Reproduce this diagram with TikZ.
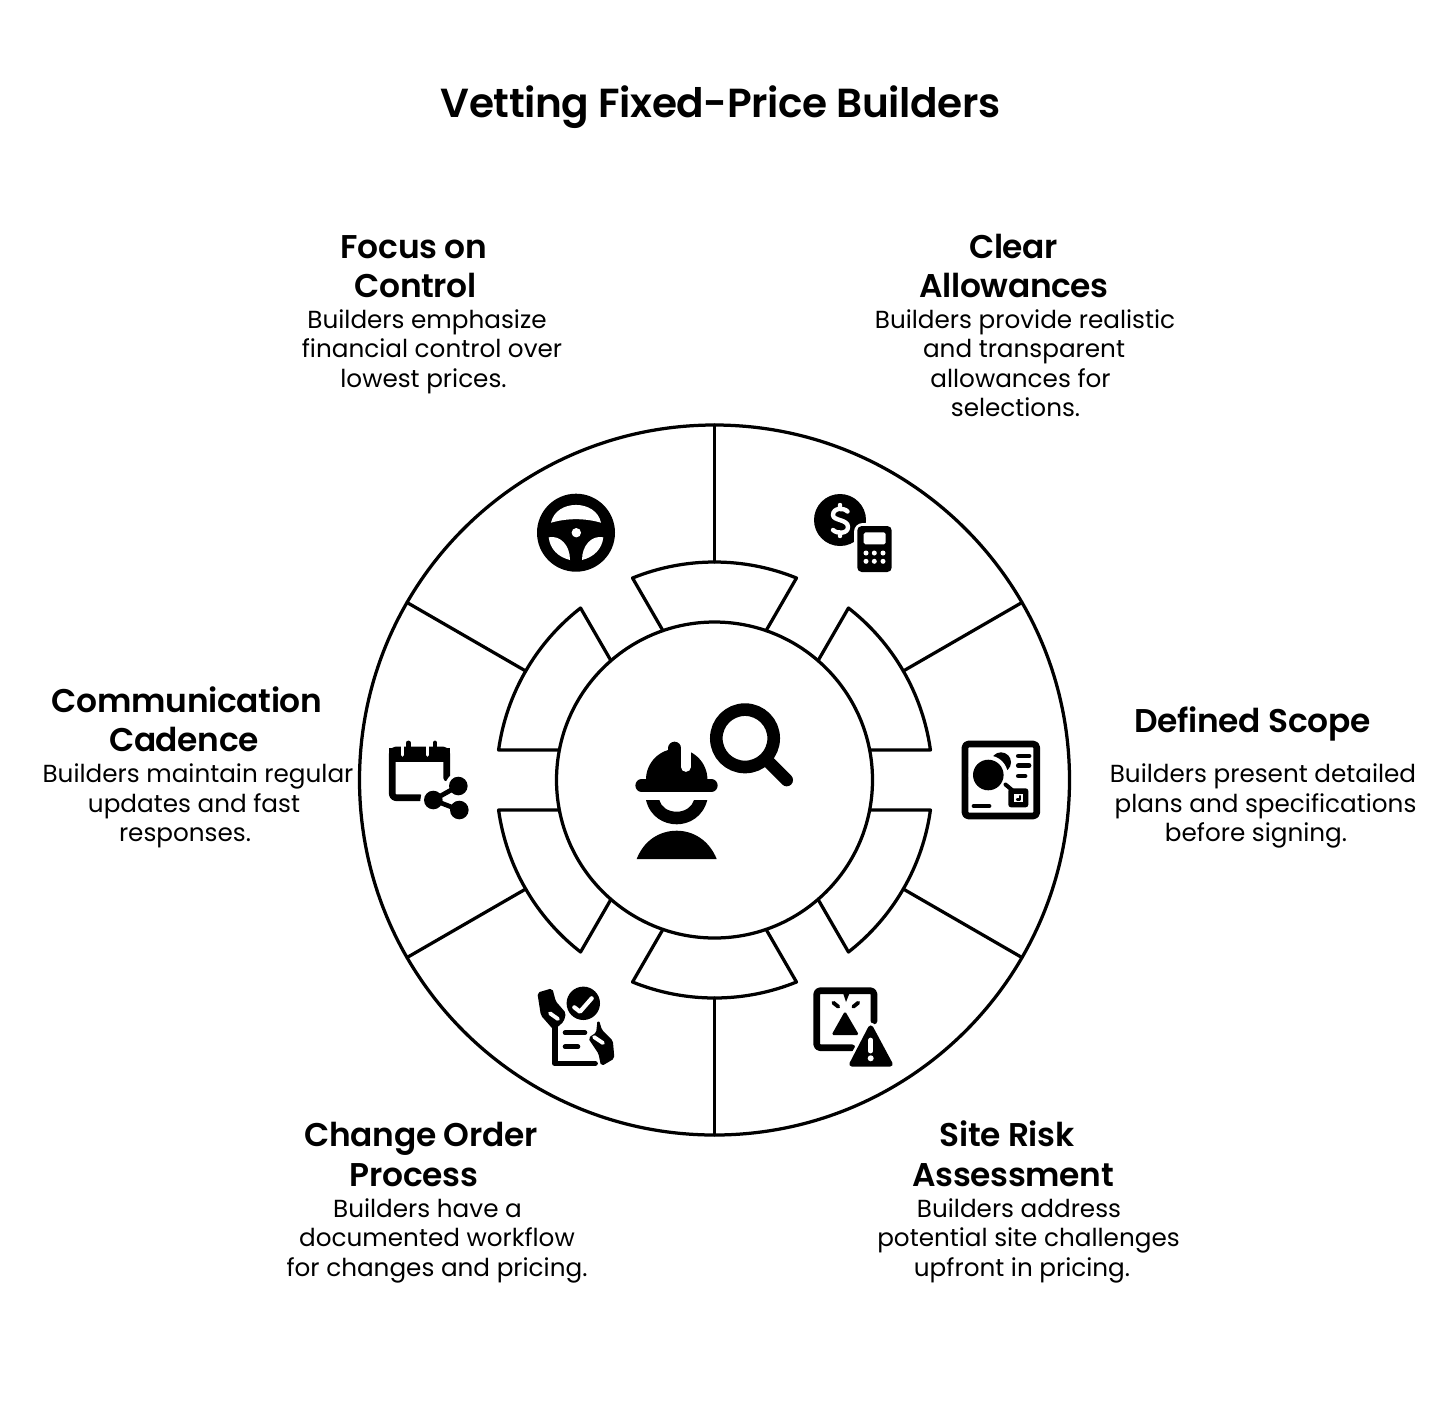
\documentclass[tikz,border=0pt]{standalone}
\usepackage{fontspec}
\setmainfont{Poppins}
\newfontfamily\headfont[LetterSpace=-1]{Poppins SemiBold}
\begin{document}
\begin{tikzpicture}[x=0.02cm,y=-0.02cm,line join=round,line cap=round,
	ring/.style={line width=1.85pt},
	titletext/.style={anchor=base,inner sep=0pt,font=\headfont\fontsize{23.1}{28}\selectfont},
	headtext/.style={anchor=base,inner sep=0pt,font=\headfont\fontsize{18.7}{22}\selectfont},
	bodytext/.style={anchor=base,inner sep=0pt,font=\fontsize{14.05}{17}\selectfont}]
	\useasboundingbox (0,0) rectangle (1429,1417);
	\def\cx{714.5} \def\cy{780}
	\def\rout{355} \def\rmid{218} \def\rin{158}
	% Wheel
	\begin{scope}[shift={(\cx,\cy)}]
	\draw[ring] (0,0) circle (\rout) (0,0) circle (\rin);
	\foreach \a in {30,90,...,330} {
		\draw[ring] (\a:\rmid)--(\a:\rout);
		\draw[ring] (\a+19.05:\rin)--(\a+22.09:\rmid)
		arc[start angle=\a+22.09,end angle=\a-22.09,radius=\rmid]--(\a-19.05:\rin);
	}
	\end{scope}
	% Texts
	\node[titletext] (title) at (720.5,117) {Vetting Fixed-Price Builders};
	\foreach \x/\y/\txt [count=\n] in {414/258/Focus on,415.5/297/Control,1013.5/258/Clear,1014/297/Allowances,
		1252.5/732/Defined Scope,187/712/Communication,184/751/Cadence,421/1146/Change Order,414/1186/Process,
		1007/1146/Site Risk,1013/1186/Assessment}
		\node[headtext] (head\n) at (\x,\y) {\txt};
	\foreach \x/\y/\txt [count=\n] in {427/328/Builders emphasize,432/357/financial control over,423.5/387/lowest prices.,
		1025/328/Builders provide realistic,1024/357/and transparent,1020.5/387/allowances for,1015.5/416/selections.,
		1263/782/Builders present detailed,1265.5/812/plans and specifications,1256/841/before signing.,
		198/782/Builders maintain regular,194/812/updates and fast,185/841/responses.,
		427.5/1217/Builders have a,437/1246/documented workflow,437/1276/for changes and pricing.,
		1019/1217/Builders address,1028.5/1246/potential site challenges,1022/1276/upfront in pricing.}
		\node[bodytext] (body\n) at (\x,\y) {\txt};
	% Worker and magnifier
	\draw[line width=7.2pt] (745,738.3) circle (28.7) (770,763.3)--(786.7,780);
	\fill (646,779.5) arc[start angle=180,end angle=360,radius=30.7]--cycle;
	\draw[white,line width=5.5pt] (685.8,742)--(685.8,767);
	\draw[line width=7.2pt] (674.7,748)--(674.7,764);
	\draw[line width=7pt] (641.5,785.5)--(711.5,785.5);
	\fill (646,800) .. controls (650,817) and (664,824.3) .. (676.7,824.3) .. controls (689,824.3) and (703,817) .. (707.3,800)
	--(694,800) .. controls (692,807) and (685,811.7) .. (676.7,811.7) .. controls (668,811.7) and (661,807) .. (659.3,800)--cycle;
	\fill (636.7,859) .. controls (644,840) and (660,830.7) .. (676.7,830.7) .. controls (693,830.7) and (709,840) .. (716.7,859)--cycle;
	% Steering wheel
	\fill (576,532.7) circle (39);
	\fill[white] (551,522.7) .. controls (556,499) and (596,499) .. (601,522.7) .. controls (585,518) and (567,518) .. cycle
	(576.3,532.7) circle (4.7);
	\foreach \s in {1,-1}
		\fill[white] (576-\s*27.3,537.3) .. controls (576-\s*16,535) and (576-\s*6,545) .. (576-\s*6,560)
		.. controls (576-\s*18,557) and (576-\s*26,549) .. cycle;
	% Coin and calculator
	\fill (840,520) circle (26);
	\draw[white,line width=2.5pt] (847.5,511.5) .. controls (844,507.5) and (833,507.5) .. (833,515)
	.. controls (833,521) and (848,519) .. (848,527) .. controls (848,534) and (837,534) .. (833,530)
	(840,505)--(840,508) (840,533)--(840,536);
	\fill[white,rounded corners=5pt] (854,523) rectangle (895,575);
	\fill[rounded corners=2.5pt] (857.3,526) rectangle (891.7,572);
	\fill[white,rounded corners=1pt] (863.7,532.3) rectangle (885.7,544.3);
	\foreach \x in {866,874.3,883} \foreach \y in {553,561.3} \fill[white] (\x,\y) circle (2.5);
	% Plan
	\draw[line width=3.8pt,rounded corners=2pt] (965,744) rectangle (1036.7,816);
	\fill (1001,762.3) circle (10);
	\fill[white] (988.3,775) circle (19.5);
	\fill (988.3,775) circle (15.3);
	\draw[line width=2.7pt] (1018.3,756)--(1029,756) (1018.3,765.7)--(1029,765.7) (1018.3,776)--(1025,776) (974,806)--(989,806);
	\draw[line width=2.3pt] (1005.5,784.5)--(1012,790);
	\fill[rounded corners=1.5pt] (1008.3,788.3) rectangle (1028.3,807.3);
	\fill[white] (1014,794) rectangle (1023.3,801.7);
	\draw[line width=1.2pt] (1017,799.5)--(1020,799.5)--(1020,796);
	% Site warning
	\draw[line width=3.8pt,rounded corners=2pt] (874,1021)--(874,990.7)--(816.7,990.7)--(816.7,1047.7)--(852,1047.7);
	\fill (842.7,992) -- (850,992) -- (846,1002) -- cycle;
	\fill[rounded corners=1pt] (845,1011)--(859,1035)--(831.5,1035)--cycle;
	\draw[line width=2.2pt] (833.3,1002.7)--(838.3,1006.7) (858.3,1002.7)--(853.3,1006.7);
	\filldraw[draw=white,line width=6pt] (870.7,1028)--(890,1064)--(852,1064)--cycle;
	\filldraw[line width=3pt] (870.7,1028)--(890,1064)--(852,1064)--cycle;
	\draw[white,line width=2.7pt] (870.7,1040)--(870.7,1051);
	\fill[white] (870.7,1058.3) circle (3);
	% Checklist
	\fill (583.3,1003.3) circle (16.7);
	\draw[white,line width=2.4pt] (574.3,1007.3)--(580,1011.7)--(591.7,998.3);
	\draw[line width=3.3pt] (555,1024)--(555,1063.5)--(595,1063.5);
	\draw[line width=2.6pt] (565,1032.7)--(585,1032.7) (565,1046.7)--(578,1046.7);
	\filldraw[line width=1pt,rounded corners=1pt] (538.3,993.3)--(551.7,989.3)--(555,1001.7)--(565,1013.3)--(563,1021)--(554,1029)--(541.7,1015)--cycle;
	\draw[white,line width=2.2pt] (550,1013.3)--(558,1019);
	\filldraw[line width=1pt,rounded corners=1pt] (598.3,1020.7)--(601,1030)--(612,1041)--(613.5,1058)--(601.7,1065)--(599.3,1053.3)--(589.3,1038.3)--(597,1033)--cycle;
	\draw[white,line width=2.2pt] (594,1037)--(603,1043);
	% Calendar and sharing
	\draw[line width=3.8pt,rounded corners=2pt] (446.7,778)--(446.7,750)--(392.3,750)--(392.3,797.7)--(420,797.7);
	\fill (389,748) rectangle (450,761.7);
	\draw[white,line width=2pt] (402.7,746)--(402.7,755) (427.3,746)--(427.3,755);
	\draw[line width=2.8pt] (408.3,743)--(408.3,757) (435,743)--(435,757);
	\fill[white] (458.3,786) circle (13) (433.3,800) circle (13) (459.3,810) circle (13);
	\draw[line width=2.7pt] (458.3,786)--(433.3,800)--(459.3,810);
	\fill (458.3,786) circle (9.3) (433.3,800) circle (9.3) (459.3,810) circle (9.3);
\end{tikzpicture}
\end{document}
